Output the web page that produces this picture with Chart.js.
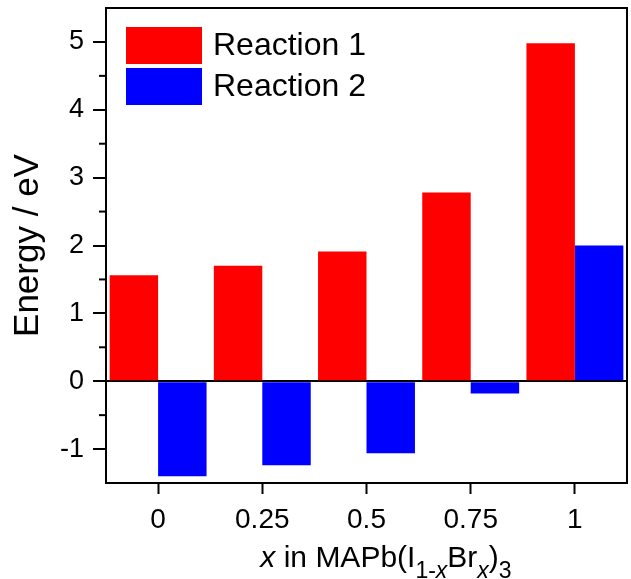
<!DOCTYPE html>
<html>
<head>
<meta charset="utf-8">
<script src="https://cdn.jsdelivr.net/npm/chart.js@4.4.1/dist/chart.umd.min.js"></script>
<style>
    html, body { margin: 0; padding: 0; background: #fff; overflow: hidden; }
    #wrap { width: 631px; height: 579px; position: relative; }
</style>
</head>
<body>
<div id="wrap"><canvas id="chart"></canvas></div>
<script>
const categories = ['0', '0.25', '0.5', '0.75', '1'];
const reaction1 = [1.56, 1.70, 1.91, 2.78, 4.98];
const reaction2 = [-1.40, -1.24, -1.06, -0.18, 2.00];
const seriesNames = ['Reaction 1', 'Reaction 2'];
const seriesColors = ['#ff0000', '#0000ff'];
const yMajorTicks = [-1, 0, 1, 2, 3, 4, 5];
const yMinorTicks = [-0.5, 0.5, 1.5, 2.5, 3.5, 4.5];
const yTitle = 'Energy / eV';
// x title with subscripts: x in MAPb(I1-xBrx)3
const xTitleParts = [
    { text: 'x', italic: true },
    { text: ' in MAPb(I' },
    { text: '1-', sub: true },
    { text: 'x', sub: true, italic: true },
    { text: 'Br' },
    { text: 'x', sub: true, italic: true },
    { text: ')' },
    { text: '3', sub: true }
];

const FONT = "'Liberation Sans', Arial, sans-serif";

// box sides, minor ticks, legend and x title
const extras = {
    id: 'extras',
    afterDraw(chart) {
        const ctx = chart.ctx;
        const xs = chart.scales.x;
        const y = chart.scales.y;
        const left = xs.left, right = xs.right;
        const top = y.top, bottom = y.bottom;

        ctx.save();

        // top and right sides of the box
        ctx.beginPath();
        ctx.rect(left - 1, top - 1, right - left + 2, 2);
        ctx.rect(right - 1, top - 1, 2, bottom - top + 2);
        ctx.fillStyle = '#000';
        ctx.fill();

        // minor ticks
        yMinorTicks.forEach(v => {
            const py = y.getPixelForValue(v);
            ctx.fillRect(left - 7, py - 1, 7, 2);
        });

        // legend
        ctx.textBaseline = 'middle';
        ctx.textAlign = 'left';
        ctx.font = '32px ' + FONT;
        chart.data.datasets.forEach((ds, i) => {
            const bx = 126, by = 27 + i * 41;
            ctx.fillStyle = ds.backgroundColor;
            ctx.fillRect(bx, by, 76, 37);
            ctx.fillStyle = '#000';
            ctx.fillText(ds.label, 213, by + 19);
        });

        // x title
        const mainSize = 30, subSize = 23;
        const fontFor = p => (p.italic ? 'italic ' : '') + (p.sub ? subSize : mainSize) + 'px ' + FONT;
        let total = 0;
        xTitleParts.forEach(p => {
            ctx.font = fontFor(p);
            total += ctx.measureText(p.text).width;
        });
        let x = 386 - total / 2;
        const base = 567;
        ctx.textBaseline = 'alphabetic';
        ctx.fillStyle = '#000';
        xTitleParts.forEach(p => {
            ctx.font = fontFor(p);
            ctx.fillText(p.text, x, p.sub ? base + 11 : base);
            x += ctx.measureText(p.text).width;
        });

        ctx.restore();
    }
};

new Chart(document.getElementById('chart'), {
    type: 'bar',
    data: {
        labels: categories,
        datasets: [
            { label: seriesNames[0], data: reaction1, backgroundColor: seriesColors[0] },
            { label: seriesNames[1], data: reaction2, backgroundColor: seriesColors[1] }
        ]
    },
    options: {
        responsive: true,
        maintainAspectRatio: false,
        animation: false,
        layout: { padding: { top: 8, right: 4, left: 0, bottom: 0 } },
        datasets: {
            bar: { categoryPercentage: 0.93, barPercentage: 1.0, borderWidth: 0 }
        },
        plugins: {
            legend: { display: false },
            tooltip: { enabled: false }
        },
        scales: {
            x: {
                offset: true,
                grid: {
                    offset: false,
                    drawOnChartArea: false,
                    drawTicks: true,
                    tickLength: 11,
                    tickColor: '#000',
                    tickWidth: 2
                },
                border: { color: '#000', width: 2 },
                ticks: {
                    color: '#000',
                    font: { family: FONT, size: 28 },
                    padding: 9,
                    maxRotation: 0
                },
                afterFit(scale) {
                    scale.height = 96;
                    scale.paddingLeft = 0;
                    scale.paddingRight = 0;
                }
            },
            y: {
                min: -1.5,
                max: 5.5,
                afterBuildTicks(scale) {
                    scale.ticks = yMajorTicks.map(v => ({ value: v }));
                },
                grid: {
                    color: c => (c.tick && c.tick.value === 0 ? '#000' : 'rgba(0,0,0,0)'),
                    lineWidth: 2,
                    tickColor: '#000',
                    tickWidth: 2,
                    tickLength: 13
                },
                border: { color: '#000', width: 2 },
                ticks: {
                    color: '#000',
                    font: { family: FONT, size: 27 },
                    padding: 9
                },
                title: {
                    display: true,
                    text: yTitle,
                    color: '#000',
                    font: { family: FONT, size: 35 },
                    padding: { top: 7, bottom: 0 }
                },
                afterFit(scale) {
                    scale.width = 106;
                    scale.paddingTop = 0;
                    scale.paddingBottom = 0;
                }
            }
        }
    },
    plugins: [extras]
});
</script>
</body>
</html>
